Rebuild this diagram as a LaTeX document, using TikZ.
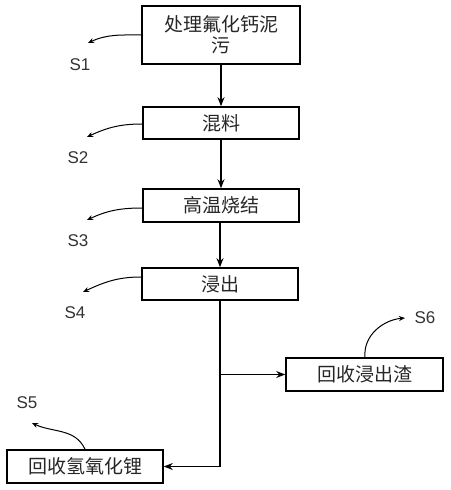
\documentclass[tikz,border=0pt]{standalone}
\usepackage{fontspec}
\setmainfont{Liberation Sans}
\newfontfamily\cjk{Noto Sans CJK SC}
\usetikzlibrary{arrows.meta}
\begin{document}
\begin{tikzpicture}[x=1pt,y=1pt,
  procbox/.style={draw=black,line width=1.6pt,minimum height=32pt,minimum width=156pt,inner sep=0pt,font=\cjk\fontsize{19}{22}\selectfont,text=black!85},
  flow/.style={line width=1.8pt,-{Stealth[length=9pt,width=7pt]}},
  side/.style={line width=1pt,-{Stealth[length=6pt,width=5pt]}},
  slabel/.style={font=\fontsize{17}{20}\selectfont,text=black!80,inner sep=0pt}]
\useasboundingbox (0,0) rectangle (450,490);
\node[procbox,minimum width=158pt,minimum height=58pt,align=center] (b1) at (221,455) {处理氟化钙泥\\[-1pt]污};
\node[procbox] (b2) at (221,367) {混料};
\node[procbox,minimum height=33pt] (b3) at (221,284.5) {高温烧结};
\node[procbox] (b4) at (220,206) {浸出};
\node[procbox,minimum width=157pt,minimum height=33pt] (b6) at (364.5,115.5) {回收浸出渣};
\node[procbox,minimum height=33pt] (b5) at (85,23.5) {回收氢氧化锂};
\draw[flow] (b1.south -| b2) -- (b2.north);
\draw[flow] (b2) -- (b3);
\draw[flow] (b3.south -| b4) -- (b4.north);
\draw[flow] (b4.south) |- (b5.east);
\draw[flow] (b4.south |- b6.west) -- (b6.west);
% side labels
\node[slabel] (s1) at (80,425) {S1};
\node[slabel] (s2) at (78,332) {S2};
\node[slabel] (s3) at (78,249) {S3};
\node[slabel] (s4) at (75,177) {S4};
\node[slabel] (s5) at (27,87) {S5};
\node[slabel] (s6) at (425,172) {S6};
\coordinate (t1) at (88,447);
\coordinate (t2) at (87,353);
\coordinate (t3) at (87,270);
\coordinate (t4) at (83,198);
\coordinate (t5) at (32,67);
\coordinate (t6) at (405,172);
\draw[side] (b1.west |- 0,455) to[out=180,in=25] (t1);
\draw[side] (b2.west |- 0,366) to[out=180,in=25] (t2);
\draw[side] (b3.west |- 0,282) to[out=180,in=25] (t3);
\draw[side] (b4.west |- 0,213) to[out=180,in=25] (t4);
\draw[side] (b6.north -| 365,0) to[out=95,in=185] (t6);
\draw[side] (b5.north -| 85,0) to[out=115,in=-25] (t5);
\end{tikzpicture}
\end{document}
